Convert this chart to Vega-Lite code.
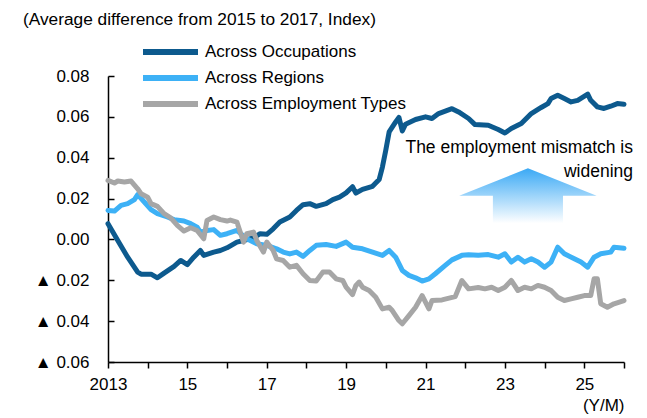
{
  "$schema": "https://vega.github.io/schema/vega-lite/v6.json",
  "width": 516,
  "height": 286,
  "autosize": "none",
  "padding": {"left": 108, "top": 76, "right": 23, "bottom": 56},
  "background": "white",
  "config": {
    "view": {"stroke": null},
    "font": "Liberation Sans",
    "axis": {"grid": false, "labelFont": "Liberation Sans", "titleFont": "Liberation Sans"},
    "legend": {"labelFont": "Liberation Sans"}
  },
  "title": {
    "text": "(Average difference from 2015 to 2017, Index)",
    "anchor": "start",
    "frame": "group",
    "dx": -85,
    "offset": 11,
    "fontSize": 17.3,
    "fontWeight": "normal",
    "font": "Liberation Sans",
    "color": "black"
  },
  "datasets": {
    "occ": [
      {"d": "2013-01", "v": 0.0077}, {"d": "2013-04", "v": -0.0005}, {"d": "2013-07", "v": -0.0087},
      {"d": "2013-10", "v": -0.016}, {"d": "2013-11", "v": -0.017}, {"d": "2014-02", "v": -0.017},
      {"d": "2014-04", "v": -0.0188}, {"d": "2014-06", "v": -0.0165}, {"d": "2014-09", "v": -0.0132},
      {"d": "2014-11", "v": -0.0103}, {"d": "2015-01", "v": -0.0123}, {"d": "2015-03", "v": -0.0087},
      {"d": "2015-05", "v": -0.0054}, {"d": "2015-06", "v": -0.0078}, {"d": "2015-09", "v": -0.0062},
      {"d": "2015-11", "v": -0.0054}, {"d": "2016-01", "v": -0.0041}, {"d": "2016-04", "v": -0.0013},
      {"d": "2016-06", "v": -0.0005}, {"d": "2016-09", "v": 0.0008}, {"d": "2016-11", "v": 0.0028},
      {"d": "2017-01", "v": 0.0025}, {"d": "2017-03", "v": 0.0052}, {"d": "2017-05", "v": 0.0085},
      {"d": "2017-08", "v": 0.011}, {"d": "2017-10", "v": 0.0142}, {"d": "2017-12", "v": 0.017},
      {"d": "2018-02", "v": 0.0175}, {"d": "2018-04", "v": 0.0162}, {"d": "2018-07", "v": 0.0175},
      {"d": "2018-09", "v": 0.0195}, {"d": "2018-11", "v": 0.0207}, {"d": "2019-01", "v": 0.0228},
      {"d": "2019-03", "v": 0.0258}, {"d": "2019-04", "v": 0.0227}, {"d": "2019-06", "v": 0.0245},
      {"d": "2019-09", "v": 0.026}, {"d": "2019-11", "v": 0.0293}, {"d": "2019-12", "v": 0.0354},
      {"d": "2020-01", "v": 0.0436}, {"d": "2020-02", "v": 0.0526}, {"d": "2020-04", "v": 0.0575},
      {"d": "2020-05", "v": 0.0597}, {"d": "2020-06", "v": 0.0531}, {"d": "2020-07", "v": 0.0564},
      {"d": "2020-10", "v": 0.0587}, {"d": "2021-01", "v": 0.06}, {"d": "2021-03", "v": 0.0592},
      {"d": "2021-05", "v": 0.0616}, {"d": "2021-09", "v": 0.064}, {"d": "2021-11", "v": 0.0624},
      {"d": "2022-02", "v": 0.0592}, {"d": "2022-04", "v": 0.0562}, {"d": "2022-08", "v": 0.0559},
      {"d": "2022-11", "v": 0.0538}, {"d": "2023-01", "v": 0.0521}, {"d": "2023-03", "v": 0.0543},
      {"d": "2023-06", "v": 0.0567}, {"d": "2023-09", "v": 0.0616}, {"d": "2023-12", "v": 0.0646},
      {"d": "2024-02", "v": 0.0665}, {"d": "2024-03", "v": 0.069}, {"d": "2024-05", "v": 0.0706},
      {"d": "2024-07", "v": 0.069}, {"d": "2024-09", "v": 0.0673}, {"d": "2024-11", "v": 0.0681},
      {"d": "2025-02", "v": 0.0711}, {"d": "2025-03", "v": 0.0681}, {"d": "2025-05", "v": 0.0649},
      {"d": "2025-07", "v": 0.0641}, {"d": "2025-09", "v": 0.0652}, {"d": "2025-11", "v": 0.0665},
      {"d": "2026-01", "v": 0.0662}
    ],
    "reg": [
      {"d": "2013-01", "v": 0.0142}, {"d": "2013-03", "v": 0.0139}, {"d": "2013-05", "v": 0.0167},
      {"d": "2013-07", "v": 0.0175}, {"d": "2013-09", "v": 0.0195}, {"d": "2013-10", "v": 0.0219},
      {"d": "2013-12", "v": 0.0183}, {"d": "2014-02", "v": 0.0146}, {"d": "2014-04", "v": 0.0126},
      {"d": "2014-07", "v": 0.011}, {"d": "2014-09", "v": 0.0097}, {"d": "2014-12", "v": 0.009},
      {"d": "2015-02", "v": 0.0077}, {"d": "2015-04", "v": 0.006}, {"d": "2015-05", "v": 0.0036},
      {"d": "2015-07", "v": 0.0044}, {"d": "2015-09", "v": 0.0048}, {"d": "2015-11", "v": 0.002},
      {"d": "2016-01", "v": 0.0028}, {"d": "2016-04", "v": 0.0044}, {"d": "2016-07", "v": 0.0003},
      {"d": "2016-10", "v": -0.0021}, {"d": "2017-01", "v": -0.0029}, {"d": "2017-04", "v": -0.0046},
      {"d": "2017-06", "v": -0.0062}, {"d": "2017-08", "v": -0.0071}, {"d": "2017-10", "v": -0.0062},
      {"d": "2017-12", "v": -0.0083}, {"d": "2018-02", "v": -0.0054}, {"d": "2018-04", "v": -0.0029},
      {"d": "2018-07", "v": -0.0025}, {"d": "2018-10", "v": -0.0034}, {"d": "2019-01", "v": -0.0013},
      {"d": "2019-03", "v": -0.0038}, {"d": "2019-06", "v": -0.0046}, {"d": "2019-09", "v": -0.0062},
      {"d": "2019-12", "v": -0.0078}, {"d": "2020-02", "v": -0.0054}, {"d": "2020-04", "v": -0.0087},
      {"d": "2020-06", "v": -0.0152}, {"d": "2020-08", "v": -0.0176}, {"d": "2020-10", "v": -0.0188},
      {"d": "2020-12", "v": -0.0204}, {"d": "2021-02", "v": -0.0193}, {"d": "2021-04", "v": -0.0168},
      {"d": "2021-07", "v": -0.0127}, {"d": "2021-09", "v": -0.01}, {"d": "2021-12", "v": -0.0078},
      {"d": "2022-02", "v": -0.0075}, {"d": "2022-05", "v": -0.0078}, {"d": "2022-08", "v": -0.0074},
      {"d": "2022-11", "v": -0.0087}, {"d": "2023-01", "v": -0.007}, {"d": "2023-03", "v": -0.0111},
      {"d": "2023-05", "v": -0.0087}, {"d": "2023-07", "v": -0.0111}, {"d": "2023-09", "v": -0.0095},
      {"d": "2023-11", "v": -0.0111}, {"d": "2024-01", "v": -0.0136}, {"d": "2024-03", "v": -0.0111},
      {"d": "2024-05", "v": -0.0038}, {"d": "2024-07", "v": -0.007}, {"d": "2024-10", "v": -0.0095},
      {"d": "2024-12", "v": -0.0111}, {"d": "2025-02", "v": -0.0136}, {"d": "2025-04", "v": -0.0087},
      {"d": "2025-06", "v": -0.007}, {"d": "2025-09", "v": -0.0062}, {"d": "2025-10", "v": -0.0038},
      {"d": "2026-01", "v": -0.0043}
    ],
    "emp": [
      {"d": "2013-01", "v": 0.0289}, {"d": "2013-03", "v": 0.0276}, {"d": "2013-04", "v": 0.0286},
      {"d": "2013-06", "v": 0.0281}, {"d": "2013-08", "v": 0.0286}, {"d": "2013-10", "v": 0.0248},
      {"d": "2013-11", "v": 0.0224}, {"d": "2014-01", "v": 0.0207}, {"d": "2014-02", "v": 0.0175},
      {"d": "2014-04", "v": 0.0162}, {"d": "2014-06", "v": 0.0126}, {"d": "2014-08", "v": 0.0106},
      {"d": "2014-10", "v": 0.0069}, {"d": "2014-12", "v": 0.0041}, {"d": "2015-02", "v": 0.0057},
      {"d": "2015-04", "v": 0.0044}, {"d": "2015-06", "v": 0.0003}, {"d": "2015-07", "v": 0.0093},
      {"d": "2015-09", "v": 0.011}, {"d": "2015-11", "v": 0.0097}, {"d": "2016-01", "v": 0.009},
      {"d": "2016-02", "v": 0.0095}, {"d": "2016-04", "v": 0.0085}, {"d": "2016-06", "v": -0.0013},
      {"d": "2016-07", "v": 0.0028}, {"d": "2016-09", "v": 0.0036}, {"d": "2016-10", "v": -0.0005},
      {"d": "2016-12", "v": -0.0062}, {"d": "2017-01", "v": -0.0013}, {"d": "2017-03", "v": -0.0054},
      {"d": "2017-04", "v": -0.0095}, {"d": "2017-06", "v": -0.0103}, {"d": "2017-08", "v": -0.0136},
      {"d": "2017-10", "v": -0.0127}, {"d": "2017-12", "v": -0.0168}, {"d": "2018-02", "v": -0.0201},
      {"d": "2018-04", "v": -0.0204}, {"d": "2018-06", "v": -0.016}, {"d": "2018-08", "v": -0.016},
      {"d": "2018-10", "v": -0.0193}, {"d": "2018-12", "v": -0.0201}, {"d": "2019-01", "v": -0.0234},
      {"d": "2019-03", "v": -0.027}, {"d": "2019-04", "v": -0.0225}, {"d": "2019-05", "v": -0.0209},
      {"d": "2019-06", "v": -0.0234}, {"d": "2019-08", "v": -0.025}, {"d": "2019-10", "v": -0.0283},
      {"d": "2019-12", "v": -0.034}, {"d": "2020-02", "v": -0.0332}, {"d": "2020-03", "v": -0.0348},
      {"d": "2020-05", "v": -0.0397}, {"d": "2020-06", "v": -0.0413}, {"d": "2020-08", "v": -0.0373},
      {"d": "2020-10", "v": -0.0332}, {"d": "2020-12", "v": -0.0275}, {"d": "2021-02", "v": -0.034},
      {"d": "2021-03", "v": -0.0299}, {"d": "2021-06", "v": -0.0296}, {"d": "2021-10", "v": -0.028},
      {"d": "2021-12", "v": -0.0201}, {"d": "2022-02", "v": -0.0242}, {"d": "2022-05", "v": -0.0235},
      {"d": "2022-07", "v": -0.0242}, {"d": "2022-09", "v": -0.0234}, {"d": "2022-11", "v": -0.025},
      {"d": "2023-01", "v": -0.0234}, {"d": "2023-03", "v": -0.0201}, {"d": "2023-05", "v": -0.025},
      {"d": "2023-07", "v": -0.0234}, {"d": "2023-09", "v": -0.0242}, {"d": "2023-11", "v": -0.0225},
      {"d": "2024-01", "v": -0.0234}, {"d": "2024-03", "v": -0.025}, {"d": "2024-05", "v": -0.0283},
      {"d": "2024-07", "v": -0.0299}, {"d": "2024-09", "v": -0.0291}, {"d": "2024-11", "v": -0.0283},
      {"d": "2025-01", "v": -0.0275}, {"d": "2025-03", "v": -0.0275}, {"d": "2025-04", "v": -0.0193},
      {"d": "2025-05", "v": -0.0193}, {"d": "2025-06", "v": -0.0315}, {"d": "2025-08", "v": -0.0332},
      {"d": "2025-10", "v": -0.0315}, {"d": "2026-01", "v": -0.0299}
    ],
    "arrow": [{"d": "2023-08-01", "v": 0.0214}],
    "note": [{"d": "2026-03-25", "v": 0.0446, "t": ["The employment mismatch is", "widening"]}]
  },
  "encoding": {
    "x": {
      "field": "d",
      "type": "temporal",
      "scale": {"domain": [{"year": 2013, "month": 1, "date": 1}, {"year": 2026, "month": 1, "date": 1}]},
      "axis": {
        "tickCount": {"interval": "year", "step": 1},
        "labelExpr": "year(datum.value) == 2013 ? '2013' : (year(datum.value) % 2 == 1 ? timeFormat(datum.value, '%y') : '')",
        "labelFlush": false,
        "labelOverlap": false,
        "labelFontSize": 17,
        "labelColor": "black",
        "labelPadding": 8,
        "tickSize": 6,
        "tickColor": "black",
        "tickWidth": 1.5,
        "domainColor": "black",
        "domainWidth": 1.5,
        "title": "(Y/M)",
        "titleAnchor": "end",
        "titleFontSize": 17,
        "titleFontWeight": "normal",
        "titleColor": "black",
        "titlePadding": 5
      }
    },
    "y": {
      "field": "v",
      "type": "quantitative",
      "scale": {"domain": [-0.06, 0.08], "nice": false, "zero": false},
      "axis": {
        "values": [-0.06, -0.04, -0.02, 0, 0.02, 0.04, 0.06, 0.08],
        "labelExpr": "datum.value < -0.0001 ? '▲ ' + format(-datum.value, '.2f') : format(datum.value, '.2f')",
        "labelFontSize": 17,
        "labelColor": "black",
        "tickSize": -6,
        "labelPadding": 25,
        "tickColor": "black",
        "tickWidth": 1.5,
        "domainColor": "black",
        "domainWidth": 1.5,
        "title": null
      }
    }
  },
  "layer": [
    {
      "data": {"name": "arrow"},
      "mark": {
        "type": "point",
        "shape": "M0,-0.4L1,0L0.51,0L0.51,0.4L-0.51,0.4L-0.51,0L-1,0Z",
        "size": 18879,
        "filled": true,
        "opacity": 1,
        "strokeWidth": 0,
        "fill": {
          "gradient": "linear",
          "x1": 0, "y1": 0, "x2": 0, "y2": 1,
          "stops": [{"offset": 0, "color": "#3aa9f5"}, {"offset": 1, "color": "#ffffff"}]
        }
      }
    },
    {
      "data": {"name": "note"},
      "mark": {
        "type": "text",
        "align": "right",
        "baseline": "middle",
        "lineHeight": 24,
        "fontSize": 17.5,
        "font": "Liberation Sans",
        "color": "black"
      },
      "encoding": {"text": {"field": "t"}}
    },
    {
      "data": {"name": "occ"},
      "mark": {"type": "line", "strokeWidth": 5, "strokeJoin": "round", "strokeCap": "round"},
      "encoding": {
        "color": {
          "datum": "Across Occupations",
          "scale": {
            "domain": ["Across Occupations", "Across Regions", "Across Employment Types"],
            "range": ["#0d5a8e", "#3db1f6", "#a6a6a6"]
          },
          "legend": {
            "orient": "none",
            "legendX": 32,
            "legendY": -37,
            "title": null,
            "symbolType": "stroke",
            "symbolSize": 3025,
            "symbolStrokeWidth": 6,
            "clipHeight": 26,
            "rowPadding": 0,
            "padding": 0,
            "labelFontSize": 17,
            "labelLimit": 400,
            "labelColor": "black",
            "labelOffset": 4
          }
        }
      }
    },
    {
      "data": {"name": "reg"},
      "mark": {"type": "line", "strokeWidth": 5, "strokeJoin": "round", "strokeCap": "round"},
      "encoding": {"color": {"datum": "Across Regions"}}
    },
    {
      "data": {"name": "emp"},
      "mark": {"type": "line", "strokeWidth": 5, "strokeJoin": "round", "strokeCap": "round"},
      "encoding": {"color": {"datum": "Across Employment Types"}}
    },
    {
      "data": {"values": [{}]},
      "mark": {"type": "rule", "color": "black", "strokeWidth": 2},
      "encoding": {"y": {"datum": 0}}
    }
  ]
}
